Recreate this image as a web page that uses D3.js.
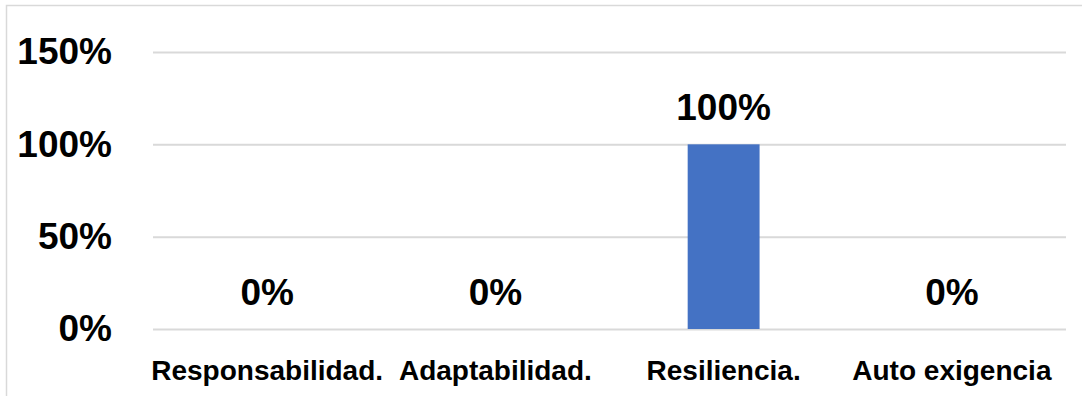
<!DOCTYPE html>
<html>
<head>
<meta charset="utf-8">
<script src="https://cdn.jsdelivr.net/npm/d3@7"></script>
<style>
  html, body { margin: 0; padding: 0; background: #fff; }
  svg { display: block; font-family: "Liberation Sans", Arial, sans-serif; font-weight: bold; }
</style>
</head>
<body>
<svg id="chart" width="1082" height="396"></svg>
<script>
// Share of responses per trait
const categories = ["Responsabilidad.", "Adaptabilidad.", "Resiliencia.", "Auto exigencia"];
const values = [0, 0, 1, 0];
const yTicks = [0, 0.5, 1, 1.5];

const svg = d3.select("#chart");
const W = 1082, H = 396;
const plot = { left: 153, right: 1066, top: 52, bottom: 329 };

// Chart frame
svg.append("rect")
  .attr("x", 6.5).attr("y", 5.5)
  .attr("width", W + 10).attr("height", H + 10)
  .attr("fill", "#fff")
  .attr("stroke", "#d9d9d9").attr("stroke-width", 1.5);

const x = d3.scaleBand()
  .domain(categories)
  .range([plot.left, plot.right])
  .paddingInner(0.685)
  .paddingOuter(0.3425);

const y = d3.scaleLinear()
  .domain([0, 1.5])
  .range([plot.bottom, plot.top]);

const pct = d3.format(".0%");

// Gridlines and value axis labels
const yAxis = d3.axisLeft(y)
  .tickValues(yTicks)
  .tickSize(-(plot.right - plot.left))
  .tickPadding(41)
  .tickFormat(pct);

const gy = svg.append("g")
  .attr("transform", `translate(${plot.left},0)`)
  .call(yAxis);
gy.select(".domain").remove();
gy.selectAll(".tick line").attr("stroke", "#d9d9d9").attr("stroke-width", 2);
gy.selectAll(".tick text")
  .attr("fill", "#000")
  .attr("font-size", 37)
  .attr("font-family", "Liberation Sans, Arial, sans-serif")
  .attr("font-weight", "bold");

// Category axis labels
const xAxis = d3.axisBottom(x).tickSize(0).tickPadding(0);
const gx = svg.append("g")
  .attr("transform", `translate(0,${plot.bottom})`)
  .call(xAxis);
gx.select(".domain").remove();
gx.selectAll(".tick text")
  .attr("dy", null)
  .attr("y", 51)
  .attr("fill", "#000")
  .attr("font-size", 28)
  .attr("font-family", "Liberation Sans, Arial, sans-serif")
  .attr("font-weight", "bold");

// Bars
svg.append("g").selectAll("rect")
  .data(values)
  .join("rect")
  .attr("x", (d, i) => x(categories[i]))
  .attr("y", d => y(d))
  .attr("width", x.bandwidth())
  .attr("height", d => y(0) - y(d))
  .attr("fill", "#4472C4");

// Value labels
svg.append("g").selectAll("text")
  .data(values)
  .join("text")
  .attr("x", (d, i) => x(categories[i]) + x.bandwidth() / 2)
  .attr("y", d => y(d) - 24)
  .attr("text-anchor", "middle")
  .attr("font-size", 37)
  .attr("fill", "#000")
  .text(d => pct(d));
</script>
</body>
</html>
